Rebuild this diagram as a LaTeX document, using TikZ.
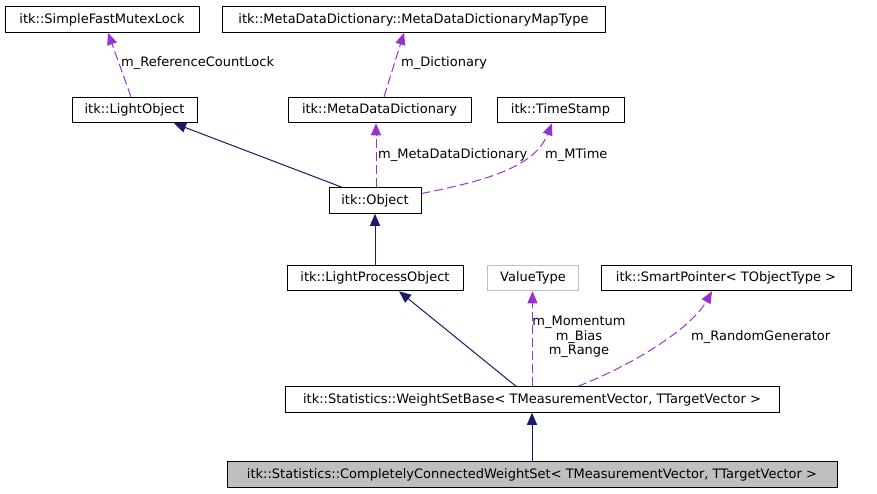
\documentclass[tikz,border=0pt]{standalone}
\usepackage{fontspec}
\setmainfont{DejaVu Sans}
\usetikzlibrary{arrows.meta, calc, positioning}
\definecolor{inhblue}{HTML}{191970}
\definecolor{usepurple}{HTML}{9A32CD}
\definecolor{boxgray}{HTML}{BFBFBF}

\begin{document}
\begin{tikzpicture}[x=1pt, y=-1pt,
    cls/.style={draw=black, line width=1pt, minimum height=25.5pt, inner sep=0pt,
        font=\fontsize{13}{15}\selectfont},
    inh/.style={draw=inhblue, line width=1pt, -{Triangle[length=12pt,width=10pt]}},
    mem/.style={draw=usepurple, line width=1pt, dash pattern=on 9pt off 4pt,
        -{Triangle[length=12pt,width=10pt]}},
    lbl/.style={inner sep=0pt, font=\fontsize{13}{14.5}\selectfont}]
    \useasboundingbox (0,0) rectangle (877,493);

    % classes
    \node[cls, minimum width=194pt] (mutex) at (102,19.5) {itk::SimpleFastMutexLock};
    \node[cls, minimum width=383pt] (maptype) at (413.5,19.5) {itk::MetaDataDictionary::MetaDataDictionaryMapType};
    \node[cls, minimum width=125pt] (lightobj) at (134.5,110) {itk::LightObject};
    \node[cls, minimum width=183pt] (mdd) at (379.5,110) {itk::MetaDataDictionary};
    \node[cls, minimum width=127pt] (timestamp) at (560.5,110) {itk::TimeStamp};
    \node[cls, minimum width=92pt] (object) at (375,200.5) {itk::Object};
    \node[cls, minimum width=176pt] (lpo) at (375,278) {itk::LightProcessObject};
    \node[cls, draw=boxgray, minimum width=91pt] (valuetype) at (533,278) {ValueType};
    \node[cls, minimum width=250pt] (smartptr) at (726,278) {itk::SmartPointer< TObjectType >};
    \node[cls, minimum width=494pt] (wsb) at (532,399.5) {itk::Statistics::WeightSetBase< TMeasurementVector, TTargetVector >};
    \node[cls, fill=boxgray, minimum width=610pt] (ccws) at (532,474.5) {itk::Statistics::CompletelyConnectedWeightSet< TMeasurementVector, TTargetVector >};

    % inheritance
    \draw[inh] ([xshift=-33pt]object.north) -- ([xshift=39.5pt]lightobj.south);
    \draw[inh] (lpo.north) -- (object.south);
    \draw[inh] ([xshift=-16pt]wsb.north) -- ([xshift=24pt]lpo.south);
    \draw[inh] (ccws.north) -- (wsb.south);

    % members
    \draw[mem] ([xshift=-3.5pt]lightobj.north) -- ([xshift=6pt]mutex.south);
    \draw[mem] ([xshift=4.5pt]mdd.north) -- ([xshift=-9.5pt]maptype.south);
    \draw[mem] ([xshift=1pt]object.north) -- ([xshift=1pt]object.north |- mdd.south);
    \draw[mem] ([yshift=7pt]object.east) .. controls (490,180) and (535,166) .. ([xshift=-8.5pt]timestamp.south);
    \draw[mem] ([xshift=0.5pt]wsb.north) -- ([xshift=-0.5pt]valuetype.south);
    \draw[mem] ([xshift=46pt]wsb.north) .. controls (630,366) and (690,330) .. ([xshift=-14pt]smartptr.south);

    \node[lbl, anchor=west] (lblrefcount) at (121,63) {m\_ReferenceCountLock};
    \node[lbl, anchor=west] (lbldict) at (401,63) {m\_Dictionary};
    \node[lbl, anchor=west] (lblmdd) at (378,155) {m\_MetaDataDictionary};
    \node[lbl, anchor=west] (lblmtime) at (545,155) {m\_MTime};
    \node[lbl, align=center] (lblvalues) at (579,337) {m\_Momentum\\m\_Bias\\m\_Range};
    \node[lbl, anchor=west] (lblrandom) at (691,337) {m\_RandomGenerator};
\end{tikzpicture}
\end{document}
